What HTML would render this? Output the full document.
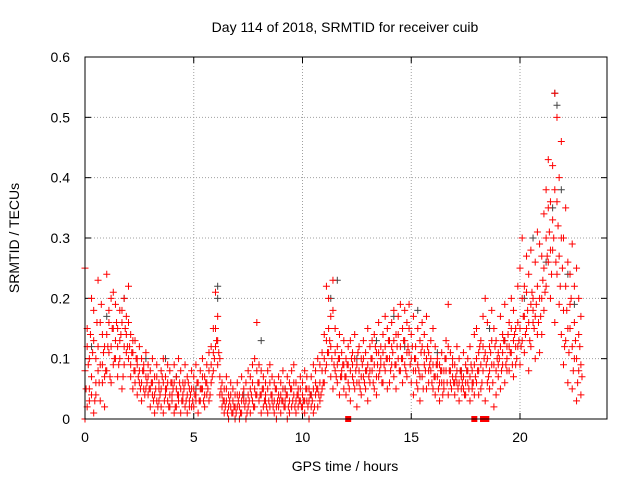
<!DOCTYPE html>
<html><head><meta charset="utf-8"><style>
body{margin:0;background:#fff}
svg{font-family:"Liberation Sans",sans-serif;font-size:14px}
</style></head><body>
<svg id="chart" width="640" height="480">
<rect width="640" height="480" fill="#fff"/>
<text x="345" y="32" text-anchor="middle">Day 114 of 2018, SRMTID for receiver cuib</text>
<text x="345" y="471" text-anchor="middle">GPS time / hours</text>
<text transform="translate(19,238) rotate(-90)" text-anchor="middle">SRMTID / TECUs</text>
<g id="grid"></g>
<g id="points"></g>
<rect x="85" y="57" width="522" height="362" fill="none" stroke="#000"/>
</svg>
<script>
const xTicks=[0,5,10,15,20];
const yTicks=[0,0.1,0.2,0.3,0.4,0.5,0.6];
const yTickLabels=["0","0.1","0.2","0.3","0.4","0.5","0.6"];
const t0=0, dt=0.1, tHalf=0.05;
const redA=[25,12,3,20,13,10,23,16,9,12,24,18,20,15,19,12,18,16,20,17,22,14,11,13,9,12,10,8,11,9,8,10,7,9,6,8,10,7,9,8,6,9,7,10,8,6,9,7,5,8,7,9,6,8,10,7,9,11,12,15,21,17,10,6,5,7,4,6,5,4,6,4,7,5,6,8,7,9,10,16,9,8,7,6,8,9,7,6,5,7,6,8,5,7,6,8,9,6,5,7,6,8,7,5,7,9,8,10,9,11,14,22,20,17,23,15,12,14,11,13,10,12,13,11,14,9,12,10,13,11,15,12,13,14,11,16,12,14,17,15,13,16,18,14,17,19,15,18,16,19,14,17,12,15,13,16,14,17,11,13,15,12,10,9,11,8,13,19,11,10,9,12,10,8,11,9,10,12,8,14,15,11,13,17,20,16,12,18,15,13,11,17,14,19,12,16,20,18,15,22,25,30,22,27,24,28,20,26,31,29,27,34,38,43,36,42,54,50,40,46,30,35,26,24,29,22,25,20,17];
const redB=[0,2,5,7,1,4,8,3,6,2,8,11,6,9,13,7,10,5,9,11,10,7,5,8,4,6,3,5,7,4,2,4,1,3,5,2,1,4,3,2,3,1,2,4,1,3,2,1,3,2,2,4,1,3,5,2,4,3,6,8,12,9,4,2,1,3,0,2,1,0,2,0,1,3,0,2,1,3,2,4,3,1,2,4,1,2,3,1,0,2,1,3,2,0,1,2,4,1,2,3,2,1,3,0,2,1,4,2,3,5,6,9,11,7,5,8,6,4,7,5,4,6,3,7,5,2,6,4,7,5,3,6,8,5,4,7,9,6,8,5,6,9,7,5,10,8,6,9,7,11,6,4,8,5,3,7,9,5,6,8,5,4,7,3,6,5,8,4,6,7,4,6,3,7,5,4,6,3,5,4,6,4,5,8,3,6,5,9,2,4,7,5,9,6,10,8,11,7,9,12,9,13,11,15,8,12,16,10,14,11,14,18,22,26,20,28,16,24,19,14,9,13,6,15,5,10,3,8,4];
const redC=[8,15,10,4,18,6,12,9,14,7,14,16,12,21,10,15,13,18,12,14,16,9,13,6,10,8,6,9,5,7,5,6,4,7,3,5,6,5,6,4,4,6,5,3,5,4,6,4,2,5,5,3,6,5,7,4,6,8,9,11,15,13,7,4,3,5,2,4,3,2,4,2,3,5,3,4,5,6,5,8,6,4,5,3,5,6,4,3,2,4,4,5,3,4,3,5,6,3,4,5,4,3,5,3,4,5,6,5,6,8,10,13,15,12,18,11,9,10,8,9,7,9,8,9,10,6,8,7,10,8,9,8,10,9,7,11,10,11,12,10,10,12,13,9,14,12,10,13,11,15,10,8,10,9,7,12,11,10,8,10,9,7,9,6,8,6,10,12,8,9,6,8,6,5,7,6,8,7,6,9,10,8,9,12,11,10,8,13,9,8,9,12,11,13,8,12,15,13,12,16,15,20,17,21,16,19,18,17,22,20,20,25,30,35,28,33,38,36,27,30,18,22,15,19,12,16,10,14,9];
const redD=[5,9,14,11,3,16,6,19,11,8,12,7,15,10,16,9,14,7,15,12,12,11,8,10,7,5,8,4,6,5,6,3,5,2,4,7,3,5,2,6,5,2,4,6,3,5,3,6,4,3,4,6,3,5,3,6,5,4,7,10,13,11,5,3,2,1,3,1,2,1,3,1,4,2,1,3,4,2,4,6,4,5,3,2,3,4,2,5,3,3,3,2,4,2,5,3,2,4,3,2,3,5,2,4,3,2,5,4,4,6,8,11,13,10,9,7,10,7,9,7,9,5,10,6,8,11,5,9,6,8,7,10,6,12,9,8,6,9,10,13,8,11,9,12,8,10,13,8,12,9,12,10,6,8,11,5,8,12,9,6,7,9,5,8,4,10,6,8,5,6,7,5,8,6,4,8,5,9,6,7,8,12,6,10,9,7,11,6,12,10,10,8,13,9,14,11,9,14,10,13,12,17,14,18,13,21,15,19,16,17,23,21,27,31,24,30,26,32,22,25,12,18,11,20,8,13,6,12,7];
const greyT=[0.3,1.0,1.8,2.8,3.7,4.2,5.1,6.1,6.1,7.3,8.1,9.2,10.4,11.3,11.6,12.5,13.4,14.2,14.7,15.3,16.2,17.3,18.6,19.3,20.2,20.6,21.2,21.5,21.6,21.7,21.9,22.2,22.5];
const greyV=[0.12,0.17,0.2,0.1,0.1,0.07,0.05,0.22,0.2,0.04,0.13,0.05,0.04,0.2,0.23,0.1,0.13,0.17,0.12,0.18,0.11,0.08,0.15,0.13,0.2,0.3,0.26,0.35,0.54,0.52,0.38,0.24,0.19];
const zeroT=[12.1,17.9,18.3,18.45];
const NS="http://www.w3.org/2000/svg";
const X=h=>85+h*(522/24);
const Y=v=>419-v*(362/0.6);
const grid=document.getElementById('grid');
const pts=document.getElementById('points');
function mk(tag,attrs,parent){const e=document.createElementNS(NS,tag);for(const k in attrs)e.setAttribute(k,attrs[k]);parent.appendChild(e);return e;}
xTicks.forEach(t=>{
  const x=X(t);
  if(t>0){const l=mk('line',{x1:x,y1:57,x2:x,y2:419,stroke:'#a0a0a0','stroke-dasharray':'1,2'},grid);
  
  }
  mk('line',{x1:x,y1:419,x2:x,y2:413,stroke:'#000'},grid);
  mk('line',{x1:x,y1:57,x2:x,y2:63,stroke:'#000'},grid);
  const tx=mk('text',{x:x,y:442,'text-anchor':'middle'},grid);tx.textContent=t;
  
  
});
yTicks.forEach((v,i)=>{
  const y=Y(v);
  if(v>0&&v<0.6){const l=mk('line',{x1:85,y1:y,x2:607,y2:y,stroke:'#a0a0a0','stroke-dasharray':'1,2'},grid);
  
  }
  mk('line',{x1:85,y1:y,x2:91,y2:y,stroke:'#000'},grid);
  mk('line',{x1:607,y1:y,x2:601,y2:y,stroke:'#000'},grid);
  const tx=mk('text',{x:70,y:y+5,'text-anchor':'end'},grid);tx.textContent=yTickLabels[i];
  
  
});
function plus(x,y){return `M${x-3.5},${y}h7M${x},${y-3.5}v7`;}
let gd='';
greyT.forEach((t,i)=>{gd+=plus(X(t),Y(greyV[i]));});
const gp=mk('path',{d:gd,stroke:'#444',fill:'none','stroke-width':1},pts);


let rd='';
[redA,redB,redC].forEach(arr=>arr.forEach((v,i)=>{rd+=plus(X(t0+i*dt),Y(v/100));}));
redD.forEach((v,i)=>{rd+=plus(X(tHalf+i*dt),Y(v/100));});
const rp=mk('path',{d:rd,stroke:'#ff0000',fill:'none','stroke-width':1},pts);


zeroT.forEach(t=>{
  const r=mk('rect',{x:X(t)-3,y:416,width:6,height:6,fill:'#ff0000'},pts);
  
  
});
</script>
</body></html>
